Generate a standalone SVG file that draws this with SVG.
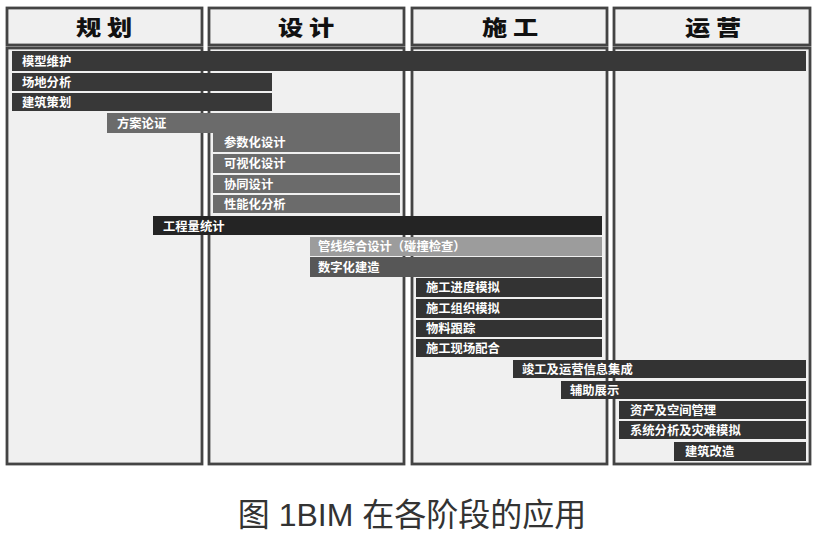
<svg xmlns="http://www.w3.org/2000/svg" width="819" height="542" viewBox="0 0 819 542">
<style>
.col{fill:#f0f0f0;stroke:#444;stroke-width:2.8}
.hd{font-family:"Noto Sans CJK SC","Noto Sans",sans-serif;font-weight:900;font-size:21px;fill:#111;text-anchor:middle}
.lb{font-family:"Noto Sans CJK SC","Noto Sans",sans-serif;font-weight:700;font-size:12.3px;fill:#fff}
.cap{font-family:"Liberation Sans","Noto Sans CJK SC",sans-serif;font-size:32px;fill:#333;text-anchor:middle}
.d1{fill:#383838}.d2{fill:#6b6b6b}.d3{fill:#242424}.d4{fill:#9c9c9c}.d5{fill:#575757}.d6{fill:#333}
</style>
<rect width="819" height="542" fill="#fff"/>
<g id="columns">
<g id="col-plan">
<rect class="col" x="7" y="8" width="195" height="37"/>
<rect class="col" x="7" y="48" width="195" height="416"/>
<text class="hd" transform="translate(104,35) scale(1.2,1)">规 划</text>
</g>
<g id="col-design">
<rect class="col" x="209" y="8" width="195" height="37"/>
<rect class="col" x="209" y="48" width="195" height="416"/>
<text class="hd" transform="translate(306,35) scale(1.2,1)">设 计</text>
</g>
<g id="col-build">
<rect class="col" x="412" y="8" width="195" height="37"/>
<rect class="col" x="412" y="48" width="195" height="416"/>
<text class="hd" transform="translate(510,35) scale(1.2,1)">施 工</text>
</g>
<g id="col-ops">
<rect class="col" x="614" y="8" width="196" height="37"/>
<rect class="col" x="614" y="48" width="196" height="416"/>
<text class="hd" transform="translate(713,35) scale(1.2,1)">运 营</text>
</g>
</g>
<g id="bars">
<g id="b1"><rect class="d1" x="12" y="51" width="794" height="20"/><text class="lb" x="22" y="66">模型维护</text></g>
<g id="b2"><rect class="d1" x="12" y="73" width="260" height="18"/><text class="lb" x="22" y="87">场地分析</text></g>
<g id="b3"><rect class="d1" x="12" y="93" width="260" height="18"/><text class="lb" x="22" y="107">建筑策划</text></g>
<g id="b4"><rect class="d2" x="107" y="113" width="293" height="20"/><text class="lb" x="117" y="128">方案论证</text></g>
<g id="b5"><rect class="d2" x="213" y="132" width="187" height="20"/><text class="lb" x="224" y="147">参数化设计</text></g>
<g id="b6"><rect class="d2" x="213" y="154" width="187" height="19"/><text class="lb" x="224" y="168">可视化设计</text></g>
<g id="b7"><rect class="d2" x="213" y="175" width="187" height="18"/><text class="lb" x="224" y="189">协同设计</text></g>
<g id="b8"><rect class="d2" x="213" y="195" width="187" height="18"/><text class="lb" x="224" y="209">性能化分析</text></g>
<g id="b9"><rect class="d3" x="153" y="216" width="449" height="19"/><text class="lb" x="163" y="231">工程量统计</text></g>
<g id="b10"><rect class="d4" x="310" y="237" width="292" height="19"/><text class="lb" x="318" y="251">管线综合设计（碰撞检查）</text></g>
<g id="b11"><rect class="d5" x="310" y="257" width="292" height="20"/><text class="lb" x="318" y="272">数字化建造</text></g>
<g id="b12"><rect class="d6" x="416" y="278" width="186" height="19"/><text class="lb" x="426" y="292">施工进度模拟</text></g>
<g id="b13"><rect class="d6" x="416" y="299" width="186" height="19"/><text class="lb" x="426" y="313">施工组织模拟</text></g>
<g id="b14"><rect class="d6" x="416" y="320" width="186" height="17"/><text class="lb" x="426" y="333">物料跟踪</text></g>
<g id="b15"><rect class="d6" x="416" y="339" width="186" height="18"/><text class="lb" x="426" y="353">施工现场配合</text></g>
<g id="b16"><rect class="d6" x="513" y="360" width="293" height="18"/><text class="lb" x="522" y="374">竣工及运营信息集成</text></g>
<g id="b17"><rect class="d6" x="561" y="381" width="245" height="18"/><text class="lb" x="570" y="395">辅助展示</text></g>
<g id="b18"><rect class="d6" x="619" y="401" width="187" height="18"/><text class="lb" x="630" y="415">资产及空间管理</text></g>
<g id="b19"><rect class="d6" x="619" y="421" width="187" height="18"/><text class="lb" x="630" y="435">系统分析及灾难模拟</text></g>
<g id="b20"><rect class="d6" x="674" y="442" width="132" height="19"/><text class="lb" x="685" y="456">建筑改造</text></g>
</g>
<text class="cap" x="412" y="526">图 1BIM 在各阶段的应用</text>
</svg>
